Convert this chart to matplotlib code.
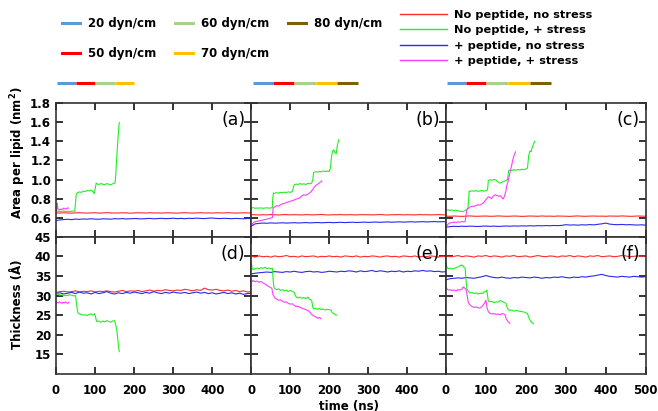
import numpy as np
import matplotlib
matplotlib.use('Agg')
import matplotlib.pyplot as plt
from matplotlib.lines import Line2D

plt.rcParams['font.family'] = ['DejaVu Sans']

# ---------------- data ----------------
t_long = np.arange(0, 501, 10)

# Area per lipid (nm^2) -- long flat series (every 10 ns)
apl_a_nopep_nostress = [0.650,0.648,0.651,0.649,0.647,0.650,0.652,0.649,0.648,0.650,
                        0.651,0.648,0.649,0.652,0.650,0.648,0.649,0.651,0.650,0.647,
                        0.649,0.651,0.650,0.648,0.652,0.649,0.650,0.648,0.651,0.650,
                        0.649,0.647,0.650,0.652,0.649,0.648,0.650,0.651,0.649,0.650,
                        0.648,0.651,0.650,0.649,0.652,0.650,0.648,0.649,0.651,0.650,0.649]
apl_a_pep_nostress = [0.570,0.576,0.580,0.583,0.579,0.585,0.582,0.586,0.584,0.588,
                      0.585,0.583,0.588,0.586,0.584,0.589,0.587,0.590,0.586,0.588,
                      0.591,0.589,0.587,0.590,0.592,0.588,0.590,0.593,0.589,0.591,
                      0.594,0.590,0.592,0.589,0.593,0.591,0.595,0.592,0.590,0.594,
                      0.596,0.592,0.590,0.593,0.591,0.589,0.592,0.590,0.588,0.591,0.589]
apl_b_nopep_nostress = [0.632,0.630,0.628,0.631,0.629,0.633,0.630,0.628,0.631,0.632,
                        0.629,0.631,0.630,0.628,0.632,0.630,0.629,0.631,0.633,0.630,
                        0.628,0.631,0.630,0.632,0.629,0.631,0.630,0.628,0.632,0.630,
                        0.631,0.629,0.630,0.633,0.630,0.628,0.631,0.630,0.632,0.629,
                        0.631,0.630,0.628,0.632,0.630,0.631,0.629,0.630,0.632,0.630,0.629]
apl_b_pep_nostress = [0.510,0.535,0.540,0.543,0.541,0.545,0.542,0.544,0.546,0.543,
                      0.545,0.547,0.544,0.546,0.548,0.545,0.547,0.549,0.546,0.548,
                      0.550,0.547,0.549,0.551,0.548,0.550,0.552,0.549,0.551,0.553,
                      0.550,0.552,0.554,0.551,0.553,0.555,0.552,0.554,0.556,0.553,
                      0.555,0.557,0.554,0.556,0.558,0.555,0.557,0.559,0.556,0.558,0.557]
apl_c_nopep_nostress = [0.616,0.614,0.617,0.615,0.613,0.616,0.618,0.615,0.614,0.616,
                        0.617,0.614,0.615,0.618,0.616,0.614,0.615,0.617,0.616,0.613,
                        0.615,0.617,0.616,0.614,0.618,0.615,0.616,0.614,0.617,0.616,
                        0.615,0.613,0.616,0.618,0.615,0.614,0.616,0.617,0.615,0.616,
                        0.614,0.617,0.616,0.615,0.618,0.616,0.614,0.615,0.617,0.616,0.615]
apl_c_pep_nostress = [0.500,0.506,0.509,0.507,0.510,0.508,0.511,0.509,0.507,0.510,
                      0.512,0.509,0.511,0.508,0.510,0.512,0.510,0.513,0.511,0.514,
                      0.512,0.515,0.513,0.516,0.514,0.517,0.515,0.518,0.516,0.519,
                      0.526,0.522,0.524,0.521,0.525,0.523,0.527,0.524,0.530,0.535,
                      0.543,0.532,0.528,0.526,0.529,0.525,0.527,0.524,0.522,0.525,0.521]

# Area per lipid -- stressed series
t_apl_a_nopep_stress = [0,5,10,15,20,25,30,35,40,45,48,50,52,55,60,65,70,75,80,85,90,95,98,100,103,105,
                        110,115,120,125,130,135,140,145,148,151,153,155,157,159,161,162]
apl_a_nopep_stress = [0.665,0.668,0.664,0.667,0.669,0.666,0.668,0.665,0.667,0.669,0.668,0.760,0.850,0.862,
                      0.870,0.865,0.878,0.874,0.886,0.880,0.889,0.870,0.852,0.900,0.962,0.955,
                      0.948,0.958,0.950,0.946,0.957,0.951,0.945,0.955,0.958,0.965,1.050,1.200,1.330,1.450,1.560,1.600]
t_apl_a_pep_stress = [0,2,3,5,8,10,13,15,18,20,23,25,28,30,32]
apl_a_pep_stress = [0.650,0.700,0.750,0.690,0.680,0.688,0.684,0.692,0.688,0.700,0.694,0.690,0.698,0.702,0.700]

t_apl_b_nopep_stress = [0,5,10,15,20,25,30,35,40,45,50,54,55,57,60,65,70,75,80,85,90,95,100,105,107,
                        110,115,120,125,130,135,140,145,150,155,158,160,165,170,175,180,185,190,195,200,
                        203,206,209,212,215,218,221,225]
apl_b_nopep_stress = [0.700,0.705,0.698,0.702,0.699,0.703,0.697,0.701,0.704,0.699,0.702,0.705,0.800,0.860,
                      0.855,0.862,0.858,0.866,0.860,0.868,0.864,0.870,0.866,0.872,0.900,
                      0.945,0.952,0.948,0.958,0.950,0.955,0.947,0.960,0.956,0.962,1.000,
                      1.075,1.082,1.078,1.086,1.080,1.090,1.084,1.088,1.085,
                      1.120,1.240,1.300,1.310,1.280,1.270,1.360,1.420]
t_apl_b_pep_stress = [0,3,6,10,15,20,25,30,35,40,45,50,54,56,60,65,70,75,80,85,90,95,100,105,110,115,
                      120,125,130,135,140,145,150,155,160,165,170,175,181]
apl_b_pep_stress = [0.510,0.535,0.550,0.558,0.562,0.566,0.570,0.575,0.580,0.585,0.590,0.596,0.600,0.700,
                    0.712,0.725,0.722,0.735,0.745,0.750,0.758,0.765,0.772,0.778,0.785,0.795,
                    0.800,0.808,0.830,0.840,0.835,0.845,0.860,0.880,0.910,0.935,0.950,0.965,0.985]

t_apl_c_nopep_stress = [0,5,10,15,20,25,30,35,40,45,50,55,58,60,65,70,75,80,85,90,95,100,104,106,
                        110,115,120,125,130,135,140,145,150,154,157,160,165,170,175,180,185,190,195,200,
                        204,207,210,213,216,219,222]
apl_c_nopep_stress = [0.680,0.682,0.676,0.680,0.674,0.678,0.672,0.668,0.664,0.668,0.680,0.700,0.880,
                      0.875,0.882,0.878,0.884,0.876,0.880,0.885,0.878,0.884,0.890,0.990,
                      0.998,0.992,1.000,0.995,0.975,0.962,0.972,0.980,0.990,1.000,1.095,
                      1.100,1.095,1.104,1.098,1.105,1.100,1.108,1.102,1.110,
                      1.120,1.250,1.300,1.290,1.340,1.370,1.400]
t_apl_c_pep_stress = [0,3,6,10,14,20,25,30,35,40,45,48,52,55,60,65,70,75,80,85,90,95,100,
                      106,110,114,118,123,128,132,136,140,143,146,148,150,152,156,160,164,168,171,174]
apl_c_pep_stress = [0.495,0.520,0.535,0.545,0.548,0.552,0.550,0.555,0.553,0.558,0.556,0.560,0.680,0.695,
                    0.712,0.720,0.718,0.728,0.735,0.732,0.745,0.760,0.790,
                    0.820,0.812,0.800,0.825,0.840,0.832,0.825,0.830,0.810,0.795,0.820,0.850,0.880,
                    0.930,0.990,1.070,1.140,1.220,1.260,1.290]

# Thickness (A) -- long flat series (every 10 ns)
thk_d_nopep_nostress = [30.8,31.0,31.1,30.9,31.0,31.2,30.9,31.1,31.0,31.2,
                        30.9,31.1,31.0,31.2,31.0,30.9,31.1,31.3,31.0,31.2,
                        31.1,31.3,31.0,31.2,31.4,31.1,31.3,31.2,31.5,31.3,
                        31.2,31.4,31.3,31.6,31.4,31.2,31.5,31.3,31.9,31.5,
                        31.4,31.6,31.3,31.2,31.4,31.1,31.3,31.0,31.2,30.9,31.0]
thk_d_pep_nostress = [30.5,30.7,30.4,30.6,30.8,30.5,30.9,30.6,30.7,30.4,
                      30.8,30.5,30.7,31.0,30.6,30.4,30.7,30.5,30.8,30.6,
                      30.9,30.7,30.5,30.8,30.6,31.0,30.7,30.5,30.8,30.6,
                      30.9,30.7,30.6,30.8,30.5,30.7,30.9,30.6,30.8,30.5,
                      30.7,30.4,30.6,30.8,30.5,30.7,30.4,30.6,30.3,30.5,30.6]
thk_e_nopep_nostress = [40.0,39.8,40.1,39.9,40.0,39.8,40.1,39.9,40.0,40.2,
                        39.9,40.0,39.8,40.1,39.9,40.0,40.1,39.8,40.0,39.9,
                        40.1,39.9,40.0,39.8,40.1,40.0,39.9,40.1,39.8,40.0,
                        39.9,40.1,40.0,39.8,40.0,40.1,39.9,40.0,39.8,40.1,
                        40.0,39.9,40.1,39.8,40.0,39.9,40.1,40.0,39.8,40.0,39.9]
thk_e_pep_nostress = [35.5,35.7,35.8,35.9,36.0,35.9,36.1,36.0,35.9,36.1,
                      36.0,36.2,36.0,35.9,36.1,36.2,36.0,36.1,35.9,36.0,
                      36.2,36.1,36.0,36.2,36.1,36.3,36.2,36.0,36.3,36.1,
                      36.2,36.4,36.1,36.3,36.2,36.0,36.2,36.1,36.3,36.0,
                      36.2,36.1,36.3,36.2,36.4,36.2,36.3,36.1,36.2,36.0,36.1]
thk_f_nopep_nostress = [40.1,39.9,40.0,40.2,39.9,40.1,40.0,39.8,40.1,40.0,
                        40.2,39.9,40.1,40.0,39.8,40.1,40.0,40.2,39.9,40.0,
                        40.1,39.8,40.0,40.2,40.0,39.9,40.1,40.0,39.8,40.1,
                        40.0,40.2,39.9,40.1,40.0,39.8,40.1,40.0,40.2,39.9,
                        40.0,40.1,39.9,40.0,40.2,40.1,39.9,40.0,40.1,40.0,40.1]
thk_f_pep_nostress = [34.0,34.3,34.4,34.5,34.4,34.6,34.5,34.4,34.6,34.8,
                      35.1,34.8,34.6,34.5,34.7,34.5,34.4,34.6,34.5,34.7,
                      34.6,34.5,34.7,34.6,34.4,34.6,34.5,34.7,34.6,34.8,
                      34.6,34.5,34.7,34.6,34.8,34.7,34.9,35.0,35.2,35.4,
                      35.1,34.9,34.8,34.7,34.9,34.8,34.7,34.9,34.8,34.7,34.8]

# Thickness -- stressed series
t_thk_d_nopep_stress = [0,5,10,15,20,25,30,35,40,45,50,53,56,60,65,70,75,80,85,90,95,99,102,104,
                        110,115,120,125,130,135,140,145,150,153,156,158,160,162]
thk_d_nopep_stress = [30.6,30.3,30.1,30.2,29.9,30.1,30.0,30.2,30.1,29.9,30.0,27.5,25.6,
                      25.3,25.2,25.0,25.1,24.9,25.2,25.3,25.0,25.4,24.2,23.4,
                      23.5,23.2,23.5,23.3,23.6,23.4,23.2,23.5,23.6,22.5,21.0,19.0,17.2,15.7]
t_thk_d_pep_stress = [0,3,6,9,12,15,18,21,24,27,30,33]
thk_d_pep_stress = [28.0,28.3,28.1,28.4,28.2,28.0,28.3,28.1,28.4,28.2,28.0,28.3]

t_thk_e_nopep_stress = [0,2,5,10,15,20,25,30,35,40,45,50,54,56,58,60,65,70,75,80,85,90,95,100,105,110,
                        113,116,120,125,130,135,140,145,150,155,158,160,165,170,175,180,185,190,195,200,205,
                        208,212,216,219]
thk_e_nopep_stress = [38.5,37.0,36.6,36.9,37.0,36.8,37.1,36.9,37.2,36.9,37.0,36.8,37.0,34.0,32.2,
                      31.8,31.5,31.7,31.3,31.5,31.2,31.4,31.0,31.3,31.1,30.8,
                      30.0,29.6,29.4,29.6,29.3,29.5,29.2,29.6,29.0,28.8,27.0,
                      26.6,26.8,26.5,26.7,26.4,26.6,26.3,26.5,26.4,26.2,
                      25.6,25.4,25.1,25.0]
t_thk_e_pep_stress = [0,3,6,10,15,20,25,30,35,40,45,50,53,55,57,60,65,70,75,80,85,90,95,100,105,110,
                      115,120,125,130,135,140,145,150,155,160,165,170,175,179]
thk_e_pep_stress = [34.0,33.6,33.8,33.5,33.7,33.4,33.6,33.2,33.0,32.6,32.3,32.0,31.8,30.5,30.0,
                    29.4,29.1,28.8,28.9,28.5,28.3,28.4,28.0,27.8,27.9,27.5,27.2,27.3,27.0,26.8,
                    26.6,26.4,26.2,25.8,25.2,24.8,24.6,24.2,24.4,24.1]

t_thk_f_nopep_stress = [0,2,5,10,15,20,25,30,35,40,45,48,50,52,55,60,65,70,75,80,85,90,95,100,
                        102,104,106,110,115,120,125,130,135,140,145,150,153,156,
                        160,165,170,175,180,185,190,195,200,204,207,210,214,219]
thk_f_nopep_stress = [38.6,37.3,36.9,37.0,36.8,36.9,37.1,37.3,37.6,37.8,37.2,36.9,34.0,31.8,31.2,
                      30.6,30.8,30.5,30.7,30.4,30.6,30.5,30.9,31.0,31.4,30.0,28.6,
                      28.4,28.5,28.2,28.4,28.3,28.7,28.5,28.3,28.0,27.0,26.4,
                      26.2,26.3,26.0,26.2,26.1,26.0,25.9,25.8,25.6,25.4,24.5,23.8,23.2,22.8]
t_thk_f_pep_stress = [0,3,6,10,15,20,25,30,35,40,43,46,50,53,56,60,65,70,75,80,85,90,93,96,100,103,106,
                      110,115,120,125,130,135,140,145,148,151,155,160]
thk_f_pep_stress = [32.2,31.6,31.4,31.5,31.3,31.4,31.2,31.5,31.4,31.6,32.2,32.0,31.6,30.0,28.2,
                    27.6,27.2,27.0,27.1,26.9,26.8,27.2,27.6,28.0,28.8,26.8,25.9,
                    25.5,25.3,25.4,25.2,25.3,25.1,25.4,25.3,25.0,24.0,23.4,22.9]

# surface-tension stages (ns boundaries) above each column
stage_labels = ['20 dyn/cm', '50 dyn/cm', '60 dyn/cm', '70 dyn/cm', '80 dyn/cm']
stage_colors = ['#5b9bd5', '#ff0000', '#a9d18e', '#ffc000', '#7f6000']
stages_a = [3, 50, 100, 150, 200]
stages_b = [4, 55, 110, 165, 220, 275]
stages_c = [2, 50, 100, 155, 210, 263]

series_labels = ['No peptide, no stress', 'No peptide, + stress',
                 '+ peptide, no stress', '+ peptide, + stress']
series_colors = ['#ff2b2b', '#22ee22', '#2a2aee', '#ff3cff']

panel_tags = ['(a)', '(b)', '(c)', '(d)', '(e)', '(f)']
x_ticks = [0, 100, 200, 300, 400, 500]
apl_ticks = [0.6, 0.8, 1.0, 1.2, 1.4, 1.6, 1.8]
thk_ticks = [15, 20, 25, 30, 35, 40, 45]

# ---------------- figure ----------------
W, H = 658, 411
fig = plt.figure(figsize=(W / 100, H / 100), dpi=100)

cols = [(56, 251.3), (251.3, 446), (446, 645.7)]
rows = [(103.3, 236.7), (236.7, 374)]

def rect(c, r):
    x0, x1 = c
    y0, y1 = r
    return [x0 / W, 1 - y1 / H, (x1 - x0) / W, (y1 - y0) / H]

axes = [[fig.add_axes(rect(c, r)) for c in cols] for r in rows]

top_data = [
    (apl_a_nopep_nostress, (t_apl_a_nopep_stress, apl_a_nopep_stress), apl_a_pep_nostress, (t_apl_a_pep_stress, apl_a_pep_stress)),
    (apl_b_nopep_nostress, (t_apl_b_nopep_stress, apl_b_nopep_stress), apl_b_pep_nostress, (t_apl_b_pep_stress, apl_b_pep_stress)),
    (apl_c_nopep_nostress, (t_apl_c_nopep_stress, apl_c_nopep_stress), apl_c_pep_nostress, (t_apl_c_pep_stress, apl_c_pep_stress)),
]
bot_data = [
    (thk_d_nopep_nostress, (t_thk_d_nopep_stress, thk_d_nopep_stress), thk_d_pep_nostress, (t_thk_d_pep_stress, thk_d_pep_stress)),
    (thk_e_nopep_nostress, (t_thk_e_nopep_stress, thk_e_nopep_stress), thk_e_pep_nostress, (t_thk_e_pep_stress, thk_e_pep_stress)),
    (thk_f_nopep_nostress, (t_thk_f_nopep_stress, thk_f_nopep_stress), thk_f_pep_nostress, (t_thk_f_pep_stress, thk_f_pep_stress)),
]

spine_col = '#333333'

for r, (row_axes, row_data) in enumerate(zip(axes, [top_data, bot_data])):
    for c, (ax, d) in enumerate(zip(row_axes, row_data)):
        red, (tg, vg), blue, (tm, vm) = d
        ax.plot(t_long, red, color=series_colors[0], lw=0.8)
        ax.plot(t_long, blue, color=series_colors[2], lw=0.8)
        ax.plot(tg, vg, color=series_colors[1], lw=0.8)
        ax.plot(tm, vm, color=series_colors[3], lw=0.8)
        ax.set_xlim(0, 500)
        if r == 0:
            ax.set_ylim(0.4, 1.8)
            ax.set_yticks(apl_ticks)
            ax.set_yticklabels([f'{v:.1f}' for v in apl_ticks] if c == 0 else [])
            ax.set_xticks(x_ticks)
            ax.set_xticklabels([])
        else:
            ax.set_ylim(10, 45)
            ax.set_yticks(thk_ticks)
            ax.set_yticklabels([str(v) for v in thk_ticks] if c == 0 else [])
            ax.set_xticks(x_ticks)
            ax.set_xticklabels([str(v) if (v < 500 or c == 2) else '' for v in x_ticks])
        ax.tick_params(direction='in', top=True, right=True, length=5, width=1.4,
                       color=spine_col, labelsize=8.5, pad=3.5)
        ax.tick_params(axis='x', pad=7)
        for lab in ax.get_xticklabels() + ax.get_yticklabels():
            lab.set_fontweight('bold')
        for s in ax.spines.values():
            s.set_linewidth(1.2)
            s.set_color(spine_col)
        ax.text(0.97, 0.94, panel_tags[r * 3 + c], transform=ax.transAxes,
                ha='right', va='top', fontsize=12.5)

axes[1][1].set_xlabel('time (ns)', fontsize=8.5, fontweight='bold', labelpad=2)

fig.text(18 / W, 1 - 153 / H, 'Area per lipid (nm$^\\mathbf{2}$)', rotation=90,
         ha='center', va='center', fontsize=8.5, fontweight='bold')
fig.text(18 / W, 1 - 304 / H, 'Thickness (Å)', rotation=90,
         ha='center', va='center', fontsize=8.5, fontweight='bold')

# stage bars above the top panels
for ax, st in zip(axes[0], [stages_a, stages_b, stages_c]):
    tr = ax.get_xaxis_transform()
    for i in range(len(st) - 1):
        ax.plot([st[i], st[i + 1]], [1.152, 1.152], color=stage_colors[i], lw=2.2,
                solid_capstyle='butt', transform=tr, clip_on=False)

# legends
stage_handles = [Line2D([], [], color=col, lw=2.2) for col in stage_colors]
leg1 = fig.legend(stage_handles, stage_labels, ncol=3,
                  loc='upper left', bbox_to_anchor=(62 / W, 1 - 17 / H),
                  frameon=False, borderpad=0, borderaxespad=0, handlelength=1.5,
                  handletextpad=0.7, columnspacing=1.6, labelspacing=1.47,
                  prop=dict(size=8.5, weight='bold'))
series_handles = [Line2D([], [], color=col, lw=1.0) for col in series_colors]
leg2 = fig.legend(series_handles, series_labels, loc='upper left',
                  bbox_to_anchor=(400 / W, 1 - 10 / H), frameon=False, borderpad=0,
                  borderaxespad=0, handlelength=4.1, handletextpad=0.6,
                  labelspacing=0.48, prop=dict(size=8.2, weight='bold'))

fig.savefig('out.png', dpi=100)
